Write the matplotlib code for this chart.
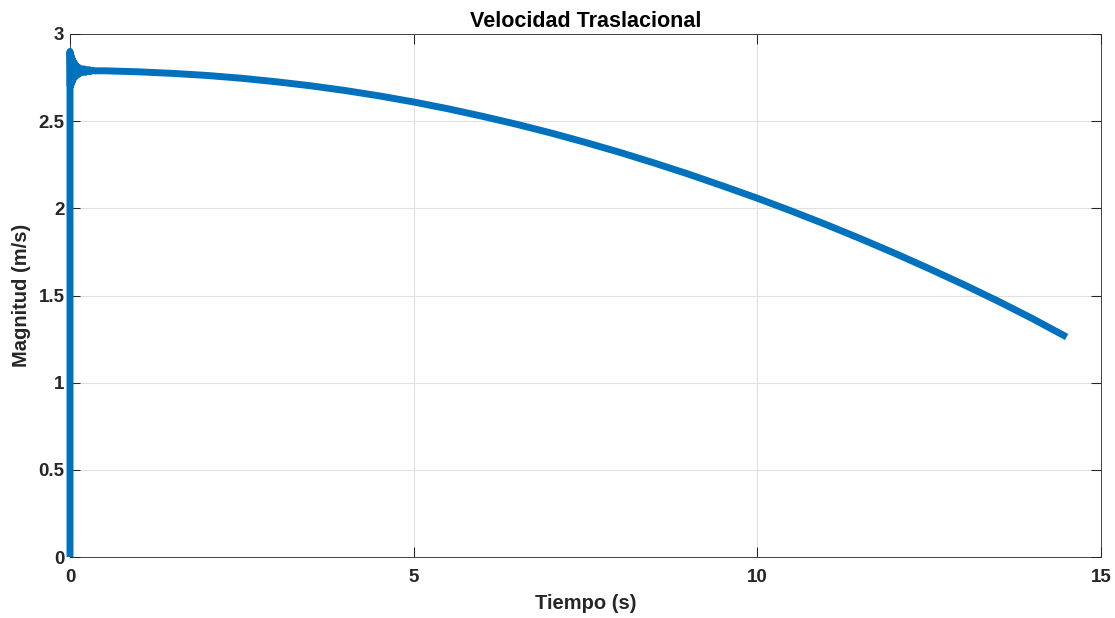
import matplotlib
matplotlib.use("Agg")
import matplotlib.pyplot as plt

# --- data ---
# initial transient (t in s, speed in m/s)
t_start = [0.0, 0.0, 0.005, 0.01, 0.015, 0.02, 0.025, 0.03, 0.035, 0.04, 0.045,
           0.05, 0.055, 0.06, 0.065, 0.07, 0.075, 0.08, 0.09, 0.10, 0.11,
           0.12, 0.13, 0.14, 0.15, 0.16, 0.18, 0.20, 0.22, 0.24, 0.26,
           0.28, 0.30, 0.33, 0.36, 0.40]
v_start = [0.0, 2.90, 2.70, 2.88, 2.71, 2.87, 2.72, 2.86, 2.73, 2.85, 2.74,
           2.84, 2.75, 2.83, 2.75, 2.83, 2.76, 2.82, 2.76, 2.81, 2.77,
           2.81, 2.77, 2.80, 2.78, 2.80, 2.78, 2.80, 2.78, 2.795, 2.785,
           2.795, 2.785, 2.792, 2.788, 2.789]
# smooth decay afterwards
t_main = [0.5, 1.0, 1.5, 2.0, 2.5, 3.0, 3.5, 4.0, 4.5, 5.0, 5.5, 6.0, 6.5,
          7.0, 7.5, 8.0, 8.5, 9.0, 9.5, 10.0, 10.5, 11.0, 11.5, 12.0, 12.5,
          13.0, 13.5, 14.0, 14.5]
v_main = [2.789, 2.783, 2.774, 2.762, 2.746, 2.726, 2.703, 2.676, 2.645, 2.610,
          2.571, 2.528, 2.482, 2.432, 2.378, 2.321, 2.260, 2.196, 2.128, 2.058,
          1.984, 1.907, 1.826, 1.742, 1.654, 1.563, 1.468, 1.368, 1.262]

x_ticks = [0, 5, 10, 15]
x_tick_labels = ["0", "5", "10", "15"]
y_ticks = [0, 0.5, 1, 1.5, 2, 2.5, 3]
y_tick_labels = ["0", "0.5", "1", "1.5", "2", "2.5", "3"]

plt.rcParams['font.family'] = ['Liberation Sans', 'DejaVu Sans']
plt.rcParams['font.weight'] = 'bold'

fig = plt.figure(figsize=(11.15, 6.18), dpi=100)
ax = fig.add_axes([70/1115, 61/618, 1031/1115, 523/618])

t = t_start + t_main
v = v_start + v_main
ax.plot(t, v, color='#0072BD', linewidth=5.0, solid_joinstyle='round',
        solid_capstyle='butt', clip_on=False, zorder=3)

ax.set_xlim(0, 15)
ax.set_ylim(0, 3)
ax.set_xticks(x_ticks)
ax.set_xticklabels(x_tick_labels)
ax.set_yticks(y_ticks)
ax.set_yticklabels(y_tick_labels)

ax.grid(True, color='#e0e0e0', linewidth=0.8)
ax.set_axisbelow(True)
for s in ax.spines.values():
    s.set_color('#262626')
    s.set_linewidth(0.6)
ax.tick_params(direction='in', length=7, width=0.75, colors='#262626',
               top=True, right=True, labelsize=13.5, pad=4)
ax.tick_params(axis='x', pad=8.5)
for lbl in ax.get_xticklabels() + ax.get_yticklabels():
    lbl.set_fontweight('bold')

ax.set_title('Velocidad Traslacional', fontsize=15.5, fontweight='bold', pad=5)
ax.set_xlabel('Tiempo (s)', fontsize=14.5, fontweight='bold', color='#262626', labelpad=6)
ax.set_ylabel('Magnitud (m/s)', fontsize=14.5, fontweight='bold', color='#262626', labelpad=5)

fig.savefig('out.png', dpi=100)
